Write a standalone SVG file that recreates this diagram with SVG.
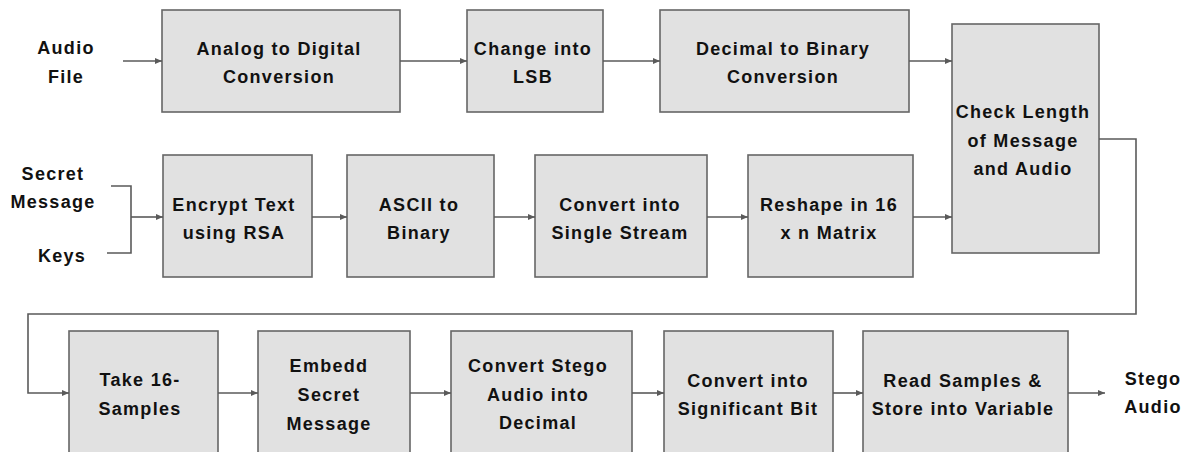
<svg xmlns="http://www.w3.org/2000/svg" width="1187" height="452" viewBox="0 0 1187 452">
  <defs>
    <marker id="arrow" markerUnits="userSpaceOnUse" markerWidth="7" markerHeight="6" refX="7" refY="3" orient="auto">
      <path d="M0,0 L7,3 L0,6 z" fill="#5a5a5a"/>
    </marker>
    <style>
      .box { fill: #e1e1e1; stroke: #666; stroke-width: 1.6; }
      .lbl { font-family: "Liberation Sans", Arial, sans-serif; font-weight: bold; font-size: 18px; letter-spacing: 1.3px; fill: #111; text-anchor: middle; }
      .wire { fill: none; stroke: #5a5a5a; stroke-width: 1.6; }
      .flow { fill: none; stroke: #5a5a5a; stroke-width: 1.6; marker-end: url(#arrow); }
    </style>
  </defs>
  <rect width="1187" height="452" fill="#ffffff"/>

  <!-- inputs and output labels -->
  <g id="audio-file">
    <text class="lbl" x="66" y="54">Audio</text>
    <text class="lbl" x="66" y="83">File</text>
  </g>
  <g id="secret-message">
    <text class="lbl" x="53" y="180">Secret</text>
    <text class="lbl" x="53" y="208">Message</text>
  </g>
  <g id="keys">
    <text class="lbl" x="62" y="262">Keys</text>
  </g>
  <g id="stego-audio">
    <text class="lbl" x="1153" y="385">Stego</text>
    <text class="lbl" x="1153" y="413">Audio</text>
  </g>

  <!-- top row -->
  <g id="adc">
    <rect class="box" x="162" y="10" width="238" height="102"/>
    <text class="lbl" x="279" y="55">Analog to Digital</text>
    <text class="lbl" x="279" y="83">Conversion</text>
  </g>
  <g id="lsb">
    <rect class="box" x="467" y="10" width="136" height="102"/>
    <text class="lbl" x="533" y="55">Change into</text>
    <text class="lbl" x="533" y="83">LSB</text>
  </g>
  <g id="dec2bin">
    <rect class="box" x="660" y="10" width="249" height="102"/>
    <text class="lbl" x="783" y="55">Decimal to Binary</text>
    <text class="lbl" x="783" y="83">Conversion</text>
  </g>
  <g id="check-length">
    <rect class="box" x="952" y="24" width="147" height="229"/>
    <text class="lbl" x="1023" y="118">Check Length</text>
    <text class="lbl" x="1023" y="147">of Message</text>
    <text class="lbl" x="1023" y="175">and Audio</text>
  </g>

  <!-- middle row -->
  <g id="encrypt">
    <rect class="box" x="163" y="155" width="149" height="122"/>
    <text class="lbl" x="234" y="211">Encrypt Text</text>
    <text class="lbl" x="234" y="239">using RSA</text>
  </g>
  <g id="ascii">
    <rect class="box" x="347" y="155" width="147" height="122"/>
    <text class="lbl" x="419" y="211">ASCII to</text>
    <text class="lbl" x="419" y="239">Binary</text>
  </g>
  <g id="single-stream">
    <rect class="box" x="535" y="155" width="172" height="122"/>
    <text class="lbl" x="620" y="211">Convert into</text>
    <text class="lbl" x="620" y="239">Single Stream</text>
  </g>
  <g id="reshape">
    <rect class="box" x="748" y="155" width="165" height="122"/>
    <text class="lbl" x="829" y="211">Reshape in 16</text>
    <text class="lbl" x="829" y="239">x n Matrix</text>
  </g>

  <!-- bottom row -->
  <g id="take-samples">
    <rect class="box" x="69" y="331" width="149" height="140"/>
    <text class="lbl" x="140" y="386">Take 16-</text>
    <text class="lbl" x="140" y="415">Samples</text>
  </g>
  <g id="embed">
    <rect class="box" x="258" y="331" width="152" height="140"/>
    <text class="lbl" x="329" y="372">Embedd</text>
    <text class="lbl" x="329" y="401">Secret</text>
    <text class="lbl" x="329" y="430">Message</text>
  </g>
  <g id="stego-decimal">
    <rect class="box" x="451" y="331" width="181" height="140"/>
    <text class="lbl" x="538" y="372">Convert Stego</text>
    <text class="lbl" x="538" y="401">Audio into</text>
    <text class="lbl" x="538" y="429">Decimal</text>
  </g>
  <g id="significant-bit">
    <rect class="box" x="664" y="331" width="169" height="140"/>
    <text class="lbl" x="748" y="387">Convert into</text>
    <text class="lbl" x="748" y="415">Significant Bit</text>
  </g>
  <g id="read-samples">
    <rect class="box" x="863" y="331" width="205" height="140"/>
    <text class="lbl" x="963" y="387">Read Samples &amp;</text>
    <text class="lbl" x="963" y="415">Store into Variable</text>
  </g>

  <!-- connectors -->
  <g id="connectors">
    <line class="flow" x1="123" y1="61" x2="162" y2="61"/>
    <line class="flow" x1="400" y1="61" x2="467" y2="61"/>
    <line class="flow" x1="603" y1="61" x2="660" y2="61"/>
    <line class="flow" x1="909" y1="61" x2="952" y2="61"/>
    <polyline class="wire" points="111,186 131,186 131,253 107,253"/>
    <line class="flow" x1="131" y1="217" x2="163" y2="217"/>
    <line class="flow" x1="312" y1="217" x2="347" y2="217"/>
    <line class="flow" x1="494" y1="217" x2="535" y2="217"/>
    <line class="flow" x1="707" y1="217" x2="748" y2="217"/>
    <line class="flow" x1="913" y1="217" x2="952" y2="217"/>
    <polyline class="flow" points="1099,139 1136,139 1136,314 28,314 28,393 69,393"/>
    <line class="flow" x1="218" y1="393" x2="258" y2="393"/>
    <line class="flow" x1="410" y1="393" x2="451" y2="393"/>
    <line class="flow" x1="632" y1="393" x2="664" y2="393"/>
    <line class="flow" x1="833" y1="393" x2="863" y2="393"/>
    <line class="flow" x1="1068" y1="393" x2="1105" y2="393"/>
  </g>
</svg>
